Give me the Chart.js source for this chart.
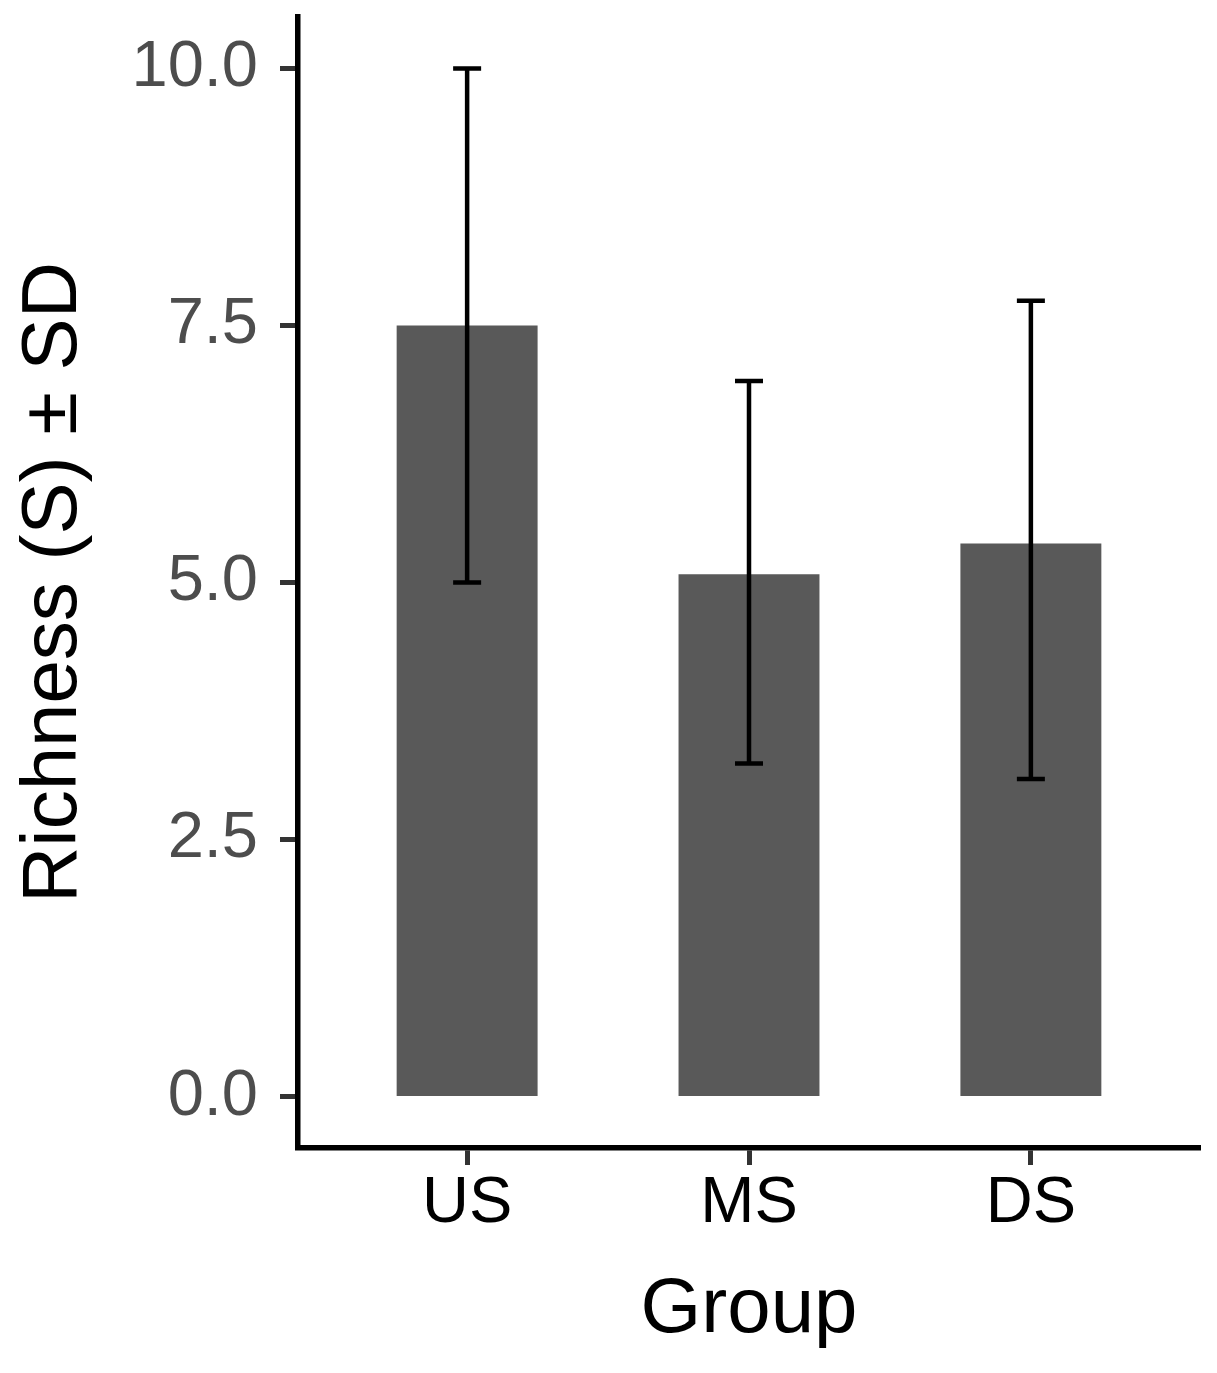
<!DOCTYPE html>
<html>
<head>
<meta charset="utf-8">
<title>Richness by group</title>
<script src="https://cdn.jsdelivr.net/npm/chart.js@4/dist/chart.umd.min.js"></script>
<style>
  html, body { margin: 0; padding: 0; background: #fff; }
  canvas { display: block; }
</style>
</head>
<body>
<canvas id="chart" width="1217" height="1373"></canvas>
<script>
const categories = ['US', 'MS', 'DS'];
const meanValues = [7.5, 5.08, 5.38];
const sdLower = [5.0, 3.24, 3.09];
const sdUpper = [10.0, 6.96, 7.74];
const yTickValues = [0, 2.5, 5, 7.5, 10];

const fontFamily = '"Liberation Sans", Arial, Helvetica, sans-serif';

// draws the ± SD whiskers on top of the bars
const errorBars = {
    id: 'errorBars',
    afterDatasetsDraw(chart) {
        const ctx = chart.ctx;
        const xs = chart.scales.x;
        const ys = chart.scales.y;
        ctx.save();
        ctx.strokeStyle = '#000';
        ctx.lineWidth = 4.5;
        ctx.lineCap = 'butt';
        categories.forEach((c, i) => {
            const x = xs.getPixelForValue(i + 1);
            const lo = ys.getPixelForValue(sdLower[i]);
            const hi = ys.getPixelForValue(sdUpper[i]);
            const capW = 14;
            ctx.beginPath();
            ctx.moveTo(x, lo);
            ctx.lineTo(x, hi);
            ctx.moveTo(x - capW, hi);
            ctx.lineTo(x + capW, hi);
            ctx.moveTo(x - capW, lo);
            ctx.lineTo(x + capW, lo);
            ctx.stroke();
        });
        ctx.restore();
    }
};

new Chart(document.getElementById('chart').getContext('2d'), {
    type: 'bar',
    data: {
        datasets: [{
            data: categories.map((c, i) => ({ x: i + 1, y: meanValues[i] })),
            backgroundColor: '#595959',
            borderWidth: 0,
            barPercentage: 0.5,
            categoryPercentage: 1
        }]
    },
    options: {
        responsive: false,
        animation: false,
        devicePixelRatio: 1,
        layout: { padding: { top: 17, right: 17, left: 0, bottom: 0 } },
        plugins: {
            legend: { display: false },
            tooltip: { enabled: false }
        },
        scales: {
            x: {
                type: 'linear',
                min: 0.4,
                max: 3.6,
                offset: false,
                afterBuildTicks: s => { s.ticks = categories.map((c, i) => ({ value: i + 1 })); },
                afterFit: s => { s.height = 225; s.paddingLeft = 0; s.paddingRight = 0; },
                ticks: {
                    callback: v => categories[v - 1],
                    color: '#000',
                    font: { family: fontFamily, size: 65 },
                    padding: 0,
                    maxRotation: 0,
                    autoSkip: false
                },
                grid: {
                    display: true,
                    offset: false,
                    drawOnChartArea: false,
                    drawTicks: true,
                    tickLength: 17,
                    tickWidth: 5,
                    tickColor: '#333'
                },
                border: { display: true, color: '#000', width: 5.5 },
                title: {
                    display: true,
                    text: 'Group',
                    color: '#000',
                    font: { family: fontFamily, size: 78 },
                    padding: { top: 0, bottom: 16 }
                }
            },
            y: {
                type: 'linear',
                min: -0.5,
                max: 10.5,
                afterBuildTicks: s => { s.ticks = yTickValues.map(v => ({ value: v })); },
                afterFit: s => { s.width = 298; s.paddingTop = 0; s.paddingBottom = 0; },
                ticks: {
                    callback: v => v.toFixed(1),
                    color: '#4D4D4D',
                    font: { family: fontFamily, size: 65 },
                    padding: 22
                },
                grid: {
                    display: true,
                    drawOnChartArea: false,
                    drawTicks: true,
                    tickLength: 18,
                    tickWidth: 5,
                    tickColor: '#333'
                },
                border: { display: true, color: '#000', width: 5.5 },
                title: {
                    display: true,
                    text: 'Richness (S) ± SD',
                    color: '#000',
                    font: { family: fontFamily, size: 78 },
                    padding: { top: 8, bottom: 0 }
                }
            }
        }
    },
    plugins: [errorBars]
});
</script>
</body>
</html>
